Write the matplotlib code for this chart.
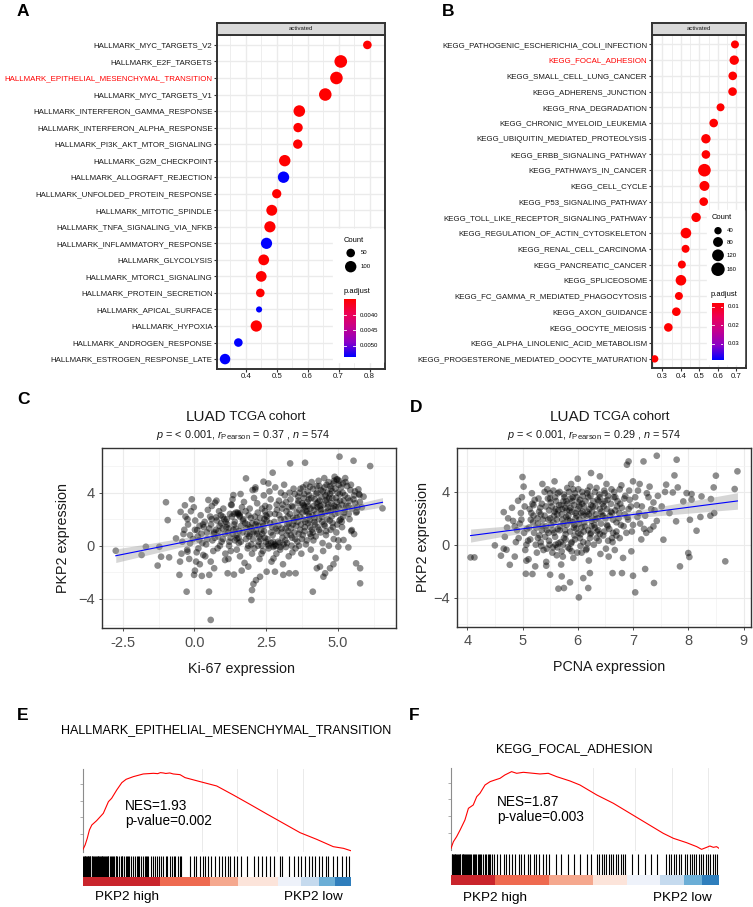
import numpy as np
import matplotlib
matplotlib.use("Agg")
import matplotlib.pyplot as plt
from matplotlib.colors import LinearSegmentedColormap
from matplotlib.patches import Rectangle

plt.rcParams['font.family'] = ['Liberation Sans', 'DejaVu Sans']
plt.rcParams['mathtext.fontset'] = 'custom'
plt.rcParams['mathtext.rm'] = 'Liberation Sans'
plt.rcParams['mathtext.it'] = 'Liberation Sans:italic'

W, H, DPI = 753, 907, 100

# ---------------- A: hallmark GSEA dotplot ----------------
hm_terms = ["HALLMARK_MYC_TARGETS_V2", "HALLMARK_E2F_TARGETS",
            "HALLMARK_EPITHELIAL_MESENCHYMAL_TRANSITION", "HALLMARK_MYC_TARGETS_V1",
            "HALLMARK_INTERFERON_GAMMA_RESPONSE", "HALLMARK_INTERFERON_ALPHA_RESPONSE",
            "HALLMARK_PI3K_AKT_MTOR_SIGNALING", "HALLMARK_G2M_CHECKPOINT",
            "HALLMARK_ALLOGRAFT_REJECTION", "HALLMARK_UNFOLDED_PROTEIN_RESPONSE",
            "HALLMARK_MITOTIC_SPINDLE", "HALLMARK_TNFA_SIGNALING_VIA_NFKB",
            "HALLMARK_INFLAMMATORY_RESPONSE", "HALLMARK_GLYCOLYSIS",
            "HALLMARK_MTORC1_SIGNALING", "HALLMARK_PROTEIN_SECRETION",
            "HALLMARK_APICAL_SURFACE", "HALLMARK_HYPOXIA",
            "HALLMARK_ANDROGEN_RESPONSE", "HALLMARK_ESTROGEN_RESPONSE_LATE"]
hm_ratio = [0.793, 0.707, 0.693, 0.657, 0.573, 0.569, 0.568, 0.526, 0.522, 0.500,
            0.484, 0.478, 0.467, 0.458, 0.450, 0.447, 0.443, 0.434, 0.376, 0.333]
hm_count = [50, 128, 126, 125, 104, 62, 62, 100, 100, 60,
            90, 96, 96, 88, 86, 50, 20, 98, 50, 82]
hm_padj = [0.00348, 0.00348, 0.00348, 0.00348, 0.00348, 0.00348, 0.00348, 0.00348,
           0.00535, 0.00348, 0.00348, 0.00348, 0.00535, 0.00348, 0.00348, 0.00348,
           0.00535, 0.00348, 0.00535, 0.00535]

# ---------------- B: KEGG GSEA dotplot ----------------
kg_terms = ["KEGG_PATHOGENIC_ESCHERICHIA_COLI_INFECTION", "KEGG_FOCAL_ADHESION",
            "KEGG_SMALL_CELL_LUNG_CANCER", "KEGG_ADHERENS_JUNCTION", "KEGG_RNA_DEGRADATION",
            "KEGG_CHRONIC_MYELOID_LEUKEMIA", "KEGG_UBIQUITIN_MEDIATED_PROTEOLYSIS",
            "KEGG_ERBB_SIGNALING_PATHWAY", "KEGG_PATHWAYS_IN_CANCER", "KEGG_CELL_CYCLE",
            "KEGG_P53_SIGNALING_PATHWAY", "KEGG_TOLL_LIKE_RECEPTOR_SIGNALING_PATHWAY",
            "KEGG_REGULATION_OF_ACTIN_CYTOSKELETON", "KEGG_RENAL_CELL_CARCINOMA",
            "KEGG_PANCREATIC_CANCER", "KEGG_SPLICEOSOME",
            "KEGG_FC_GAMMA_R_MEDIATED_PHAGOCYTOSIS", "KEGG_AXON_GUIDANCE",
            "KEGG_OOCYTE_MEIOSIS", "KEGG_ALPHA_LINOLENIC_ACID_METABOLISM",
            "KEGG_PROGESTERONE_MEDIATED_OOCYTE_MATURATION"]
kg_ratio = [0.692, 0.688, 0.680, 0.679, 0.614, 0.577, 0.535, 0.535, 0.527, 0.527,
            0.523, 0.482, 0.427, 0.425, 0.405, 0.400, 0.389, 0.375, 0.332, np.nan, 0.258]
kg_count = [48, 71, 58, 58, 48, 58, 71, 58, 140, 82,
            58, 71, 94, 48, 48, 94, 48, 58, 58, 20, 40]
kg_padj = [0.0079] * 19 + [0.0386, 0.0079]

# ---------------- C / D: scatter (x, PKP2) ----------------
ki67_pts = [
    (-2.74, -0.38), (-1.84, -0.7), (-1.69, -0.08), (-1.28, -1.5), (-1.22, -0.08), (-1.16, -0.83),
    (-0.99, 3.28), (-0.93, 1.93), (-0.88, -0.88), (-0.64, 0.55), (-0.52, -2.2), (-0.5, -1.2),
    (-0.48, 2.55), (-0.38, 0.88), (-0.33, 3.05), (-0.27, -3.47), (-0.24, 2.0), (-0.24, -0.45),
    (-0.15, 0.18), (-0.09, 3.5), (-0.01, -2.2), (0.02, -1.88), (0.1, 1.18), (0.17, 0.43),
    (0.26, -2.28), (0.31, -0.7), (0.49, 3.45), (0.51, -3.47), (0.52, -2.2), (0.57, -5.6),
    (0.69, -1.7), (0.72, 3.25), (0.76, 2.14), (0.99, 2.19), (1.07, -1.08), (1.16, -2.08),
    (1.3, 3.07), (1.36, 3.82), (1.38, -2.18), (1.48, 0.55), (1.59, 2.44), (1.65, -1.88),
    (1.8, 5.08), (1.88, -1.58), (1.99, -4.1), (2.01, -3.35), (2.06, -2.89), (2.12, 4.25),
    (2.15, -2.6), (2.29, -2.34), (2.41, 4.83), (2.58, 4.7), (2.52, -1.96), (2.73, 5.51),
    (2.76, -0.96), (2.81, -1.96), (3.1, -2.2), (3.34, 6.21), (3.31, -2.08), (3.53, -2.08),
    (3.8, 3.07), (3.86, 6.26), (4.03, 4.45), (4.13, -3.47), (4.27, -1.7), (4.38, -1.58),
    (4.5, -2.34), (4.56, -2.08), (4.73, -1.7), (4.85, -1.4), (4.94, -0.96), (5.02, -0.08),
    (5.06, 6.72), (5.14, 1.81), (5.2, 0.43), (5.37, -0.13), (5.49, 1.18), (5.55, 6.41),
    (5.57, 0.88), (5.64, -1.33), (5.72, 4.25), (5.76, 3.82), (5.78, -1.7), (5.78, -2.84),
    (5.66, 2.57), (6.13, 6.01), (6.56, 2.82),
    (-0.42, 0.3), (-0.35, 1.2), (-0.45, -0.6), (-0.31, 2.2),
    (-0.22, 1.6), (-0.15, 0.8), (-0.25, -0.3), (-0.12, 2.6), (-0.18, -1.0),
    (0.03, 1.9), (-0.05, 0.5), (0.08, -0.5), (0.02, 1.2), (-0.02, 2.9), (0.06, -1.2),
    (0.18, 1.5), (0.25, 0.9), (0.14, -0.2), (0.22, 2.3), (0.28, 0.2), (0.19, -1.4),
    (0.36, 1.8), (0.44, 1.0), (0.41, 0.1), (0.38, -0.8), (0.47, 2.7), (0.33, 1.4),
    (0.58, 1.6), (0.63, 0.4), (0.55, 2.2), (0.66, -0.4), (0.61, 3.0), (0.69, 1.0), (0.57, -1.2),
    (0.78, 1.9), (0.83, 0.7), (0.75, 1.2), (0.86, 2.6), (0.81, -0.2), (0.89, 0.0), (0.77, 3.4),
    (0.98, 1.3), (1.04, 2.0), (0.95, 0.3), (1.08, -0.6), (1.01, 2.8), (0.93, 1.7), (1.06, 0.9),
    (1.17, 1.0), (1.24, 2.4), (1.21, 0.0), (1.15, 1.6), (1.28, 3.1), (1.19, -1.0), (1.26, 0.6), (1.13, 2.0),
    (1.38, 2.4), (1.45, 2.5), (1.36, 1.2), (1.42, 0.4), (1.48, -0.3), (1.33, 3.5), (1.41, 1.8), (1.47, 0.8),
    (1.57, 2.3), (1.63, 1.5), (1.55, 0.2), (1.66, 2.9), (1.59, -0.8), (1.68, 1.0), (1.61, 3.9), (1.54, 0.6),
    (1.77, 1.7), (1.84, 0.9), (1.79, 2.6), (1.86, -0.2), (1.73, 3.3), (1.82, 1.3), (1.88, 0.0), (1.75, -1.3),
    (1.97, 2.1), (2.04, 0.5), (1.95, 1.4), (2.08, 3.6), (2.01, -0.6), (1.93, 2.8), (2.06, 1.0), (1.99, 0.1), (2.03, 4.2),
    (2.17, 1.8), (2.24, 0.3), (2.21, 2.5), (2.15, 1.1), (2.27, -1.0), (2.19, 3.2), (2.26, 0.7), (2.13, 4.4),
    (2.37, 0.9), (2.44, 2.0), (2.41, 1.5), (2.35, 0.0), (2.47, 3.0), (2.39, -0.4), (2.46, 2.6), (2.33, 1.2), (2.42, 3.8),
    (2.57, 0.1), (2.64, 1.7), (2.61, 2.9), (2.55, 0.5), (2.67, 1.0), (2.59, -0.2), (2.66, 3.5), (2.53, 2.2), (2.62, 4.1), (2.69, -1.2),
    (2.78, 0.0), (2.84, 1.3), (2.81, 2.4), (2.75, 0.3), (2.87, 3.1), (2.79, 1.8), (2.86, -0.6), (2.73, 0.8), (2.82, 4.4), (2.88, 2.7),
    (2.97, 0.2), (3.04, 1.0), (3.01, 2.0), (2.95, 3.4), (3.07, 0.6), (2.99, -0.3), (3.06, 2.8), (2.93, 1.5), (3.02, 4.0), (3.09, -1.4),
    (3.17, 0.4), (3.24, 1.6), (3.21, 2.6), (3.15, 3.8), (3.27, 1.1), (3.19, -0.1), (3.26, 2.2), (3.13, 4.6), (3.22, 0.8), (3.29, -0.8),
    (3.37, 1.3), (3.44, 2.9), (3.41, 0.6), (3.35, 3.5), (3.47, 1.9), (3.39, 0.0), (3.46, 4.3), (3.33, 2.4), (3.42, -0.5), (3.49, 1.0),
    (3.57, 2.1), (3.64, 0.9), (3.61, 3.2), (3.55, 1.5), (3.67, 4.0), (3.59, 0.3), (3.66, 2.7), (3.53, -0.2), (3.62, 3.7), (3.69, 1.2),
    (3.77, 2.5), (3.84, 1.1), (3.81, 3.6), (3.75, 0.5), (3.87, 1.8), (3.79, 4.4), (3.86, 2.9), (3.73, -0.6), (3.82, 3.0), (3.89, 0.1),
    (3.97, 3.0), (4.04, 1.4), (4.01, 2.2), (3.95, 4.1), (4.07, 0.7), (3.99, 3.5), (4.06, -0.3), (3.93, 2.6), (4.02, 1.9), (4.09, 4.8),
    (4.17, 2.7), (4.24, 3.9), (4.21, 1.6), (4.15, 0.4), (4.27, 3.2), (4.19, 2.1), (4.26, 4.5), (4.13, 1.0), (4.22, -0.9), (4.29, 2.9),
    (4.37, 3.4), (4.44, 2.4), (4.41, 4.2), (4.35, 1.2), (4.47, 0.2), (4.39, 3.0), (4.46, 1.8), (4.33, 4.9), (4.42, 2.7), (4.49, -0.4),
    (4.57, 3.8), (4.64, 2.0), (4.61, 4.6), (4.55, 1.5), (4.67, 3.1), (4.59, 0.8), (4.66, 2.6), (4.53, 5.1), (4.62, 3.5), (4.69, 0.0),
    (4.77, 4.3), (4.84, 2.8), (4.81, 3.6), (4.75, 1.2), (4.87, 4.9), (4.79, 2.2), (4.86, 0.5), (4.73, 3.9), (4.82, 1.7), (4.89, 5.2),
    (4.97, 3.3), (5.04, 4.6), (5.01, 2.5), (4.95, 1.0), (5.07, 3.9), (4.99, 5.0), (5.06, 1.9), (4.93, 2.9), (5.02, 0.4),
    (5.17, 4.0), (5.24, 2.7), (5.21, 3.4), (5.15, 1.4), (5.27, 4.8), (5.19, 2.2), (5.26, 5.1),
    (5.37, 3.0), (5.44, 4.2), (5.41, 2.0), (5.35, 3.6), (5.47, 1.1),
    (5.57, 3.8), (5.64, 2.5), (5.61, 3.2), (5.77, 3.3), (5.84, 2.9),
    (0.52, 1.3), (0.71, 0.6), (0.88, 1.5), (0.92, 2.3), (1.11, 1.4), (1.22, 0.3), (1.31, 2.2),
    (1.39, 1.6), (1.52, 2.4), (1.56, 1.1), (1.51, 2.5), (1.58, 2.2), (1.71, 2.0), (1.85, 1.6),
    (1.91, 0.7), (2.02, 1.7), (2.11, 2.2), (2.18, 0.9), (2.23, 1.5), (2.31, 0.5), (2.36, 2.8),
    (2.43, 1.1), (2.5, 0.3), (2.52, 1.9), (2.58, 0.0), (2.63, 2.4), (2.68, 0.2), (2.71, 1.4),
    (2.76, -0.1), (2.8, 0.1), (2.85, 0.0), (2.89, 1.1), (2.92, 0.3), (2.96, 2.3), (3.0, -0.1),
    (3.05, 1.3), (3.08, 3.1), (3.11, 0.1), (3.14, 2.0), (3.18, 1.3), (3.2, 3.3), (3.23, 0.2),
    (3.28, 2.9), (3.3, 1.7), (3.32, 4.0), (3.36, 0.8), (3.4, 3.0), (3.43, 1.6), (3.45, 2.1),
    (3.5, 3.9), (3.52, 0.5), (3.56, 2.5), (3.6, 1.8), (3.63, 3.4), (3.65, 0.0), (3.68, 2.2),
    (3.7, 4.3), (3.72, 1.6), (3.76, 3.2), (3.78, 0.8), (3.8, 2.0), (3.83, 3.9), (3.85, 1.4),
    (3.88, 2.6), (3.9, 4.6), (3.92, 0.4), (3.94, 3.3), (3.96, 1.7), (3.98, 2.4), (4.0, 3.8),
    (4.03, 0.9), (4.05, 2.8), (4.08, 3.6), (4.1, 1.2), (4.12, 2.3), (4.14, 4.3), (4.16, 3.0),
    (4.18, 1.8), (4.2, 3.5), (4.23, 0.7), (4.25, 2.4), (4.28, 4.0), (4.3, 1.4), (4.32, 3.3),
    (4.34, 2.0), (4.36, 4.5), (4.38, 2.8), (4.4, 1.0), (4.43, 3.7), (4.45, 2.2), (4.48, 4.1),
    (4.5, 3.1), (4.52, 1.6), (4.54, 4.4), (4.56, 2.5), (4.58, 3.4), (4.6, 1.1), (4.63, 4.0),
    (4.65, 2.9), (4.68, 4.8), (4.7, 3.6), (4.72, 1.9), (4.74, 4.5), (4.76, 2.6), (4.78, 3.2),
    (4.8, 4.1), (4.83, 1.4), (4.85, 4.7), (4.88, 3.0), (4.9, 2.4), (4.92, 4.3), (4.94, 3.6),
    (4.96, 5.0), (4.98, 1.6), (5.0, 4.0), (5.03, 2.9), (5.05, 4.9), (5.08, 3.4), (5.1, 2.0),
    (5.12, 4.4), (5.14, 3.1), (5.18, 4.7), (5.22, 2.5), (5.25, 3.8), (5.3, 3.0), (5.33, 4.5),
    (5.38, 2.4), (5.42, 3.4), (5.46, 4.6), (5.5, 2.8), (5.55, 3.5), (5.6, 4.1), (5.68, 2.9),
    (5.74, 3.9), (5.9, 3.7),
    (0.12, 0.7), (0.3, 1.6), (0.45, 0.5), (0.6, 2.0), (0.67, 0.9), (0.84, 1.1), (1.0, 0.5),
    (1.09, 1.8), (1.2, 1.3), (1.27, -0.4), (1.34, 0.9), (1.44, 1.3), (1.62, 0.3), (1.69, 1.9),
    (1.8, 0.5), (1.89, 2.3), (1.94, 0.9), (2.0, 1.3), (2.09, -0.2), (2.14, 1.6), (2.22, 0.0),
    (2.29, 2.1), (2.34, -0.6), (2.38, 1.7), (2.45, 0.6), (2.49, 2.3),
]
pcna_pts = [
    (4.06, -0.96), (4.13, -0.96), (4.5, -0.05), (4.61, -0.83), (4.66, 2.47), (4.71, -0.38),
    (4.77, -1.52), (4.86, 1.39), (4.92, 3.33), (5.0, 5.13), (5.06, -2.2), (5.07, -1.21),
    (5.18, -2.22), (5.23, -1.64), (5.43, -1.59), (5.5, -2.27), (5.65, -3.33), (5.71, -2.4),
    (5.75, -3.28), (5.86, -2.85), (6.02, -3.99), (6.1, -2.53), (6.19, -3.28), (6.22, -2.15),
    (6.24, 5.43), (6.4, 5.18), (6.63, -2.15), (6.8, -2.15), (6.89, 6.06), (6.92, 6.31),
    (7.0, -2.35), (7.04, -3.61), (7.19, 6.31), (7.22, -1.84), (7.38, -2.9), (7.43, 6.74),
    (7.6, 4.55), (7.75, 5.25), (7.79, 6.44), (7.81, 4.34), (7.91, 3.28), (7.97, 3.91),
    (8.02, -0.93), (8.06, 3.84), (8.15, 1.06), (8.24, 3.66), (8.03, 1.89), (7.78, 1.77),
    (8.06, 3.41), (8.4, 2.2), (8.41, 3.46), (8.46, 4.34), (8.47, 2.4), (8.5, 5.23),
    (8.67, -1.26), (8.84, 4.22), (8.89, 5.56), (7.85, -1.64), (8.22, 2.1), (8.0, -0.63),
    (7.66, 2.4), (7.55, 0.38), (7.37, 1.39), (7.31, 1.14), (7.72, 3.96),
    (4.68, 0.6), (4.74, 2.0), (4.66, -0.3), (4.72, 1.3),
    (4.83, 1.8), (4.88, 0.2), (4.81, 2.8), (4.86, -0.9), (4.9, 1.1),
    (4.97, 2.4), (5.03, 0.9), (4.99, 3.6), (5.05, -0.4), (4.95, 1.6), (5.02, 4.4), (5.07, 0.0),
    (5.12, 1.3), (5.18, 3.1), (5.14, 0.4), (5.2, 2.2), (5.11, -1.1), (5.17, 3.9), (5.21, 0.9), (5.13, 2.7),
    (5.27, 2.0), (5.33, 0.2), (5.29, 3.5), (5.35, 1.1), (5.26, -0.6), (5.32, 2.8), (5.36, 4.6), (5.28, 1.6), (5.34, -0.1),
    (5.42, 1.4), (5.48, 2.6), (5.44, -0.3), (5.5, 3.9), (5.41, 0.6), (5.47, 1.9), (5.51, 3.2), (5.43, -1.3), (5.49, 0.0), (5.45, 4.2),
    (5.57, 0.9), (5.63, 2.3), (5.59, 3.6), (5.65, 0.1), (5.56, 1.7), (5.62, -0.8), (5.66, 3.0), (5.58, 4.8), (5.64, 1.2), (5.6, 2.7), (5.55, -0.2),
    (5.72, 1.9), (5.78, 0.4), (5.74, 3.3), (5.8, 2.6), (5.71, -0.5), (5.77, 1.1), (5.81, 4.3), (5.73, 0.0), (5.79, 2.1), (5.75, 3.8), (5.7, -1.5),
    (5.87, 2.8), (5.93, 1.3), (5.89, 0.2), (5.95, 3.9), (5.86, 1.8), (5.92, -1.0), (5.96, 2.4), (5.88, 4.6), (5.94, 0.7), (5.9, 3.3), (5.85, -0.3),
    (6.02, 1.6), (6.08, 3.1), (6.04, 0.5), (6.1, 2.2), (6.01, 4.2), (6.07, -0.6), (6.11, 1.0), (6.03, 2.9), (6.09, 3.7), (6.05, -0.1), (6.0, 5.0),
    (6.17, 2.5), (6.23, 0.8), (6.19, 3.6), (6.25, 1.4), (6.16, -0.3), (6.22, 4.4), (6.26, 2.0), (6.18, 0.1), (6.24, 3.0), (6.2, -1.2),
    (6.32, 1.9), (6.38, 3.3), (6.34, 0.5), (6.4, 2.7), (6.31, 4.0), (6.37, 1.1), (6.41, -0.7), (6.33, 2.3), (6.39, 3.8),
    (6.47, 2.9), (6.53, 1.5), (6.49, 3.9), (6.55, 0.3), (6.46, 2.2), (6.52, 4.6), (6.56, -0.9), (6.48, 1.0), (6.54, 3.4),
    (6.62, 2.4), (6.68, 3.6), (6.64, 0.9), (6.7, 1.7), (6.61, 4.2), (6.67, -0.4), (6.71, 2.9), (6.63, 0.2),
    (6.77, 3.1), (6.83, 1.4), (6.79, 4.5), (6.85, 2.3), (6.76, 0.5), (6.82, -1.0), (6.86, 3.7),
    (6.92, 2.7), (6.98, 1.0), (6.94, 3.4), (7.0, 4.8), (6.91, 1.9), (6.97, -0.5),
    (7.07, 3.0), (7.13, 1.6), (7.09, 4.1), (7.15, 0.4), (7.11, 2.4),
    (7.22, 2.2), (7.28, 3.6), (7.24, 0.9), (7.3, 4.4), (7.37, 3.2), (7.43, 1.8), (7.39, 2.6),
    (7.52, 2.9), (7.58, 4.0),
    (4.93, 0.5), (4.98, 1.9), (5.04, 2.9), (5.08, 1.2), (5.1, 0.3), (5.16, 2.4), (5.19, 1.7),
    (5.22, 3.4), (5.24, 0.0), (5.25, 1.3), (5.3, 2.5), (5.31, 0.7), (5.35, 3.1), (5.37, 1.9),
    (5.38, -0.4), (5.4, 2.2), (5.4, 4.0), (5.44, 1.1), (5.46, 3.5), (5.48, 0.3), (5.5, 2.0),
    (5.52, 1.5), (5.53, 2.9), (5.54, -0.6), (5.56, 4.1), (5.57, 2.2), (5.59, 0.6), (5.61, 3.3),
    (5.62, 1.9), (5.63, -0.2), (5.65, 2.6), (5.67, 4.0), (5.68, 1.4), (5.69, 0.2), (5.7, 3.0),
    (5.71, 2.3), (5.73, -0.9), (5.74, 1.6), (5.76, 3.6), (5.77, 2.8), (5.78, 0.8), (5.8, 1.5),
    (5.81, 3.1), (5.82, -0.2), (5.83, 2.2), (5.84, 4.0), (5.86, 1.0), (5.87, 3.5), (5.88, 0.1),
    (5.9, 2.5), (5.91, 1.7), (5.92, 4.2), (5.93, 3.0), (5.95, 0.4), (5.96, 2.0), (5.97, 1.2),
    (5.98, 3.6), (5.99, -0.6), (6.0, 2.7), (6.01, 0.9), (6.03, 1.9), (6.04, 3.4), (6.06, 2.4),
    (6.07, 1.3), (6.08, 4.0), (6.1, 0.2), (6.11, 2.9), (6.12, 1.7), (6.14, 3.3), (6.15, -0.4),
    (6.16, 2.2), (6.18, 4.1), (6.19, 1.1), (6.21, 2.7), (6.22, 0.5), (6.23, 3.7), (6.25, 1.8),
    (6.26, 2.5), (6.28, 3.3), (6.29, 0.0), (6.3, 1.5), (6.32, 2.9), (6.34, 4.3), (6.35, 1.0),
    (6.36, 2.0), (6.38, 0.3), (6.4, 3.6), (6.42, 1.6), (6.43, 2.5), (6.45, 3.1), (6.46, 0.7),
    (6.48, 4.1), (6.5, 2.0), (6.51, -0.3), (6.53, 2.7), (6.55, 3.7), (6.57, 1.2), (6.58, 2.2),
    (6.6, 3.1), (6.62, 0.5), (6.64, 1.9), (6.66, 4.0), (6.68, 2.6), (6.7, 1.0), (6.72, 3.3),
    (6.74, 2.0), (6.76, 4.2), (6.78, 1.5), (6.8, 2.8), (6.84, 3.5), (6.88, 0.9), (6.9, 2.1),
    (6.93, 4.1), (6.96, 2.9), (7.0, 1.5), (7.04, 3.6), (7.08, 2.1), (7.12, 4.6), (7.16, 2.9),
    (7.2, 1.2), (7.25, 3.9), (7.33, 2.7), (7.45, 3.7),
    (5.15, 1.9), (5.2, 3.0), (5.28, 0.5), (5.33, 2.3), (5.36, 1.4), (5.42, 2.9), (5.47, 0.9),
    (5.5, 3.5), (5.55, 1.1), (5.58, 2.5), (5.6, 0.0), (5.64, 3.9), (5.67, 1.1), (5.72, 2.7),
    (5.75, 0.5), (5.79, 3.3), (5.82, 1.9), (5.85, 2.6), (5.89, -0.5), (5.91, 3.6), (5.94, 1.5),
    (5.98, 2.2), (6.02, 3.2), (6.05, 0.8), (6.09, 2.5), (6.13, 1.4), (6.17, 3.9), (6.2, 2.3),
    (6.24, 0.9), (6.27, 2.9), (6.31, 1.3), (6.36, 3.4), (6.4, 0.8), (6.44, 2.2), (6.49, 3.3),
    (6.54, 1.4), (6.6, 2.5), (6.65, 3.6), (6.7, 0.7), (6.75, 2.4),
]

# ---------------- E / F: running enrichment score, hits, ranking bar ----------------
emt_rank = [0, 0.9, 1.7, 2.5, 3.4, 5.2, 7.7, 9.6, 10.8, 12.7, 14.6, 16.2, 18.9, 22.6, 26.4,
            28.0, 29.0, 30.1, 31.0, 32.5, 33.8, 36.3, 38.2, 43.8, 50.0, 56.2, 62.4, 68.7,
            74.9, 81.1, 87.3, 93.5, 97.3, 100]
emt_es = [0.004, 0.034, 0.074, 0.124, 0.154, 0.18, 0.224, 0.294, 0.314, 0.364, 0.408, 0.428,
          0.444, 0.46, 0.464, 0.462, 0.468, 0.466, 0.463, 0.466, 0.46, 0.456, 0.438, 0.414,
          0.388, 0.334, 0.278, 0.22, 0.164, 0.108, 0.068, 0.024, 0.014, 0.0]
emt_hits = [0.2, 0.5, 0.8, 1.0, 1.3, 1.6, 1.9, 2.1, 2.4, 2.7, 2.9, 3.3, 3.6, 4.0, 4.3, 4.5,
            4.9, 5.2, 5.6, 5.8, 6.1, 6.5, 6.8, 7.1, 7.3, 7.7, 8.0, 8.4, 8.6, 8.9, 9.3, 9.6,
            10.1, 10.5, 10.8, 11.3, 11.7,
            12.3, 12.6, 12.9, 13.4, 14.2, 14.5, 14.8, 15.3, 16.1, 16.6, 17.0, 17.4, 18.0, 18.9,
            19.5, 20.3, 20.6, 21.0, 21.6, 22.4, 23.1, 23.5, 23.9, 24.5, 25.4, 26.2, 26.8, 27.7,
            28.5, 29.3, 30.0, 30.9, 31.6, 32.4, 33.2, 34.0, 34.6, 35.5, 36.2, 36.8,
            40.2, 41.5, 42.3, 43.6, 44.8, 45.5, 46.9, 48.0, 49.5, 50.7, 51.8, 53.0, 54.2, 55.1,
            56.3, 57.5, 59.0, 61.2, 63.8, 65.5, 66.8, 68.3, 69.9, 71.2, 73.5, 74.4, 76.8, 78.9,
            80.2, 81.6, 83.0, 84.5, 85.7, 86.8, 88.2, 89.4, 90.6, 91.7, 93.4, 95.0, 96.8, 98.1, 99.4]
emt_bar_edges = [0, 29, 47.5, 58, 73, 81.5, 88, 94, 100]

fa_rank = [0, 0.9, 2.1, 3.4, 5.2, 6.5, 8.3, 9.6, 10.8, 12.7, 14.6, 16.4, 18.3, 20.1, 22.6,
           24.5, 27.0, 30.7, 33.2, 36.3, 39.4, 44.4, 48.1, 54.4, 60.6, 66.8, 73.0, 79.2,
           83.0, 87.9, 91.7, 93.5, 95.4, 96.6, 97.9, 99.1, 100]
fa_es = [0.006, 0.046, 0.076, 0.116, 0.176, 0.246, 0.266, 0.316, 0.336, 0.386, 0.406, 0.416,
         0.426, 0.446, 0.466, 0.456, 0.462, 0.456, 0.452, 0.456, 0.436, 0.41, 0.386, 0.326,
         0.276, 0.216, 0.156, 0.096, 0.066, 0.04, 0.016, 0.0, 0.012, 0.02, 0.012, 0.016, 0.006]
fa_hits = [0.2, 0.5, 0.7, 1.1, 1.4, 1.6, 2.0, 2.3, 2.6, 3.1, 3.3, 3.5, 4.1, 4.4, 4.6, 5.0,
           5.3, 5.6, 6.1, 6.5, 6.8, 7.1, 7.6, 8.2, 8.7, 9.0, 9.3, 9.9, 10.5, 10.8, 11.2, 11.8,
           12.5, 13.2, 13.9, 14.2, 14.6, 15.4, 16.2,
           17.3, 18.4, 19.6, 20.5, 21.7, 22.9, 24.0, 25.2, 26.1, 27.4, 28.6, 29.5, 30.8, 31.9,
           33.0, 34.3, 35.4, 36.5, 39.0, 41.2, 43.5, 45.8, 48.0, 50.6, 52.4,
           54.5, 55.4, 56.3, 57.1, 58.0, 58.9, 59.8, 60.6, 61.5, 62.4, 63.3, 64.2, 65.0,
           67.5, 69.8, 72.4, 74.6, 77.0,
           80.4, 81.3, 82.2, 83.1, 84.0, 84.9, 86.0, 87.2, 88.1, 89.0, 89.9, 90.8, 91.6, 92.5,
           93.3, 94.2, 95.0, 95.9, 96.7, 97.6, 98.5, 99.4]
fa_bar_edges = [0, 16.5, 36.5, 53, 65.5, 78, 87, 93.5, 100]
bar_colors = ['#C9252C', '#EE6A50', '#F5A88E', '#FCE4DA', '#EEF2FA', '#C5DAEE', '#6BAED6', '#2F7EBC']

padj_cmap = LinearSegmentedColormap.from_list(
    'padj', ['#FF0000', '#EE0055', '#C4008F', '#8A00C8', '#0000FF'])

fig = plt.figure(figsize=(W / DPI, H / DPI), dpi=DPI)


def px_axes(x0, y0, x1, y1, **kw):
    return fig.add_axes([x0 / W, 1 - y1 / H, (x1 - x0) / W, (y1 - y0) / H], **kw)


ov = fig.add_axes([0, 0, 1, 1], zorder=20)
ov.set_xlim(0, W)
ov.set_ylim(H, 0)
ov.axis('off')
ov.patch.set_alpha(0)


def dot_area(count, a, b):
    r = a + b * np.sqrt(np.asarray(count, float))
    return (2 * r * 72 / DPI) ** 2


def dotplot(box, terms, ratio, count, padj, size_ab, xlim, xticks, red_term,
            legend_box, count_title, count_dots, count_levels, pad_title, cbar_box, cbar_ticks, cbar_fmt):
    x0, y0, x1, y1 = box
    n = len(terms)
    ax = px_axes(x0, y0, x1, y1)
    rows = np.arange(n)
    vmin, vmax = np.nanmin(padj), np.nanmax(padj)
    ax.scatter(ratio, rows, s=dot_area(count, *size_ab), c=padj, cmap=padj_cmap,
               vmin=vmin, vmax=vmax, edgecolors='none', zorder=3)
    ax.set_xlim(*xlim)
    ax.set_ylim(n - 1 + 0.6, -0.6)
    ax.set_yticks(rows)
    ax.set_yticklabels(terms)
    ax.set_xticks(xticks)
    ax.set_xticklabels([f"{t:.1f}" for t in xticks])
    ax.set_xticks([t + 0.05 for t in xticks] + [xticks[0] - 0.05], minor=True)
    ax.grid(True, which='major', color='#EBEBEB', lw=1.0, zorder=0)
    ax.grid(True, which='minor', axis='x', color='#EBEBEB', lw=0.6, zorder=0)
    ax.set_axisbelow(True)
    ax.tick_params(axis='both', which='major', labelsize=5.7, length=2.2, width=0.8,
                   color='#333333', labelcolor='#1A1A1A', pad=1)
    ax.tick_params(axis='x', which='minor', length=0)
    for lab in ax.get_yticklabels():
        if lab.get_text() == red_term:
            lab.set_color('#FF0000')
    for sp in ax.spines.values():
        sp.set_color('#333333')
        sp.set_linewidth(1.4)
    # facet strip
    st = px_axes(x0, 23, x1, y0)
    st.set_facecolor('#D9D9D9')
    st.set_xticks([])
    st.set_yticks([])
    for sp in st.spines.values():
        sp.set_color('#333333')
        sp.set_linewidth(1.4)
    st.text(0.5, 0.5, 'activated', ha='center', va='center', fontsize=4.3, color='#1A1A1A')
    # legends
    lx0, ly0, lx1, ly1 = legend_box
    ov.add_patch(Rectangle((lx0, ly0), lx1 - lx0, ly1 - ly0, color='white', zorder=1))
    ov.text(count_title[0], count_title[1], 'Count', fontsize=5.4, va='center', ha='left')
    dx, lab_x, dys = count_dots
    ov.scatter([dx] * len(count_levels), dys, s=dot_area(count_levels, *size_ab),
               color='black', edgecolors='none', zorder=3)
    for lv, dy in zip(count_levels, dys):
        ov.text(lab_x, dy, str(lv), fontsize=4.3, va='center', ha='left')
    ov.text(pad_title[0], pad_title[1], 'p.adjust', fontsize=5.4, va='center', ha='left')
    cb = px_axes(*cbar_box, zorder=21)
    grad = np.linspace(vmin, vmax, 200)[:, None]
    cb.imshow(grad, cmap=padj_cmap, aspect='auto', extent=[0, 1, vmax, vmin], vmin=vmin, vmax=vmax)
    cb.set_ylim(vmax, vmin)
    cb.set_xlim(0, 1)
    cb.axis('off')
    for t in cbar_ticks:
        cb.plot([0, 0.2], [t, t], color='white', lw=0.6)
        cb.plot([0.8, 1], [t, t], color='white', lw=0.6)
        cb.text(1.35, t, cbar_fmt.format(t), fontsize=4.3, va='center', ha='left',
                transform=cb.get_yaxis_transform())
    return ax


dotplot((217, 35, 385, 369), hm_terms, hm_ratio, hm_count, hm_padj, (0.92, 0.478),
        (0.307, 0.817), [0.4, 0.5, 0.6, 0.7, 0.8],
        "HALLMARK_EPITHELIAL_MESENCHYMAL_TRANSITION",
        (333, 229, 383, 362), (344, 241), (350.7, 361, [253, 266.7]), [50, 100],
        (344, 291.7), (344, 299, 355.7, 356.7), [0.0040, 0.0045, 0.0050], "{:.4f}")

dotplot((651.7, 35, 745.7, 368.3), kg_terms, kg_ratio, kg_count, kg_padj, (0.7, 0.474),
        (0.242, 0.712), [0.3, 0.4, 0.5, 0.6, 0.7], "KEGG_FOCAL_ADHESION",
        (707, 210, 744, 364), (711.7, 217.3), (718, 727, [230.7, 242, 255.3, 269.3]),
        [40, 80, 120, 160], (711, 295), (711.7, 302.7, 723.3, 360), [0.01, 0.02, 0.03], "{:.2f}")


def scatter_panel(box, pts, xlim, xticks, xfmt, xminor, xlabel, r_txt, title_split,
                  sub_x, xlab_pos, ylab_x):
    x0, y0, x1, y1 = box
    ax = px_axes(x0, y0, x1, y1)
    x, y = np.array(pts).T
    ax.scatter(x, y, s=23, color='black', alpha=0.45, edgecolors='none', zorder=2)
    slope, icpt = np.polyfit(x, y, 1)
    xs = np.linspace(x.min(), x.max(), 80)
    yh = icpt + slope * xs
    s = np.sqrt(np.sum((y - (icpt + slope * x)) ** 2) / (len(x) - 2))
    se = s * np.sqrt(1 / len(x) + (xs - x.mean()) ** 2 / np.sum((x - x.mean()) ** 2))
    ax.fill_between(xs, yh - 1.96 * se, yh + 1.96 * se, color='#999999', alpha=0.4, lw=0, zorder=3)
    ax.plot(xs, yh, color='#0000FF', lw=0.8, zorder=4)
    ax.set_xlim(*xlim)
    ax.set_ylim(-6.21, 7.35)
    ax.set_xticks(xticks)
    ax.set_xticklabels([xfmt.format(t) for t in xticks])
    ax.set_xticks(xminor, minor=True)
    ax.set_yticks([-4, 0, 4])
    ax.set_yticks([-6, -2, 2, 6], minor=True)
    ax.grid(True, which='major', color='#EBEBEB', lw=0.8, zorder=0)
    ax.grid(True, which='minor', color='#F2F2F2', lw=0.5, zorder=0)
    ax.set_axisbelow(True)
    ax.tick_params(which='major', labelsize=10.5, length=2.5, width=0.6, color='#333333',
                   labelcolor='#4D4D4D', pad=3)
    ax.tick_params(which='minor', length=0)
    for sp in ax.spines.values():
        sp.set_color('#333333')
        sp.set_linewidth(1.0)
    ov.text(title_split, 417, 'LUAD', fontsize=11, ha='right', va='center', color='#1A1A1A')
    ov.text(title_split, 417, ' TCGA cohort', fontsize=9.5, ha='left', va='center', color='#1A1A1A')
    ov.text(sub_x, 435, r'$p$ = < 0.001, $r_{\mathrm{Pearson}}$ = ' + r_txt + r' , $n$ = 574',
            fontsize=7.8, ha='center', va='center', color='#1A1A1A')
    ov.text(xlab_pos[0], xlab_pos[1], xlabel, fontsize=10.3, ha='center', va='center', color='#1A1A1A')
    ov.text(ylab_x, (y0 + y1) / 2, 'PKP2 expression', fontsize=10.3, ha='center', va='center',
            rotation=90, color='#1A1A1A')


scatter_panel((102.3, 448.3, 395.7, 628), ki67_pts, (-3.21, 7.02), [-2.5, 0.0, 2.5, 5.0], "{:.1f}",
              [-1.25, 1.25, 3.75, 6.25], 'Ki-67 expression', '0.37', 226, 243, (242, 669), 63)
scatter_panel((457.3, 447.7, 750.7, 626.7), pcna_pts, (3.82, 9.13), [4, 5, 6, 7, 8, 9], "{:d}",
              [4.5, 5.5, 6.5, 7.5, 8.5], 'PCNA expression', '0.29', 590.5, 594, (609, 666.7), 423)


def gsea_panel(xr, curve_y, bar_y, col_y, rank, es, hits, edges, ylim, grid_x):
    cx = px_axes(xr[0], curve_y[0], xr[1], curve_y[1])
    cx.plot(rank, es, color='#FF0000', lw=0.8, zorder=3)
    cx.set_xlim(0, 100)
    cx.set_ylim(*ylim)
    for g in grid_x:
        cx.axvline(g, color='#E6E6E6', lw=0.6, zorder=1)
    for k in ['top', 'right', 'bottom']:
        cx.spines[k].set_visible(False)
    cx.spines['left'].set_color('#8C8C8C')
    cx.spines['left'].set_linewidth(0.8)
    cx.set_xticks([])
    cx.set_yticks([0.1, 0.2, 0.3, 0.4])
    cx.set_yticklabels([])
    cx.tick_params(axis='y', length=2, width=0.5, color='#8C8C8C')
    bx = px_axes(xr[0], bar_y[0], xr[1], bar_y[1])
    bx.vlines(hits, 0, 1, color='black', lw=0.8)
    bx.set_xlim(0, 100)
    bx.set_ylim(0, 1)
    bx.axis('off')
    kx = px_axes(xr[0], col_y[0], xr[1], col_y[1])
    for i, c in enumerate(bar_colors):
        kx.axvspan(edges[i], edges[i + 1], color=c, lw=0)
    kx.set_xlim(0, 100)
    kx.axis('off')


gsea_panel((82.7, 350.7), (769.3, 852), (856, 876.7), (876.7, 886), emt_rank, emt_es, emt_hits,
           emt_bar_edges, (-0.008, 0.488), [44.4, 57.5, 72.4, 82.3])
gsea_panel((451, 719), (768.3, 850.5), (854, 875), (875, 885), fa_rank, fa_es, fa_hits,
           fa_bar_edges, (-0.007, 0.486), [53, 68.7, 82.3, 96])

ov.text(226, 730, 'HALLMARK_EPITHELIAL_MESENCHYMAL_TRANSITION', fontsize=9, ha='center', va='center')
ov.text(574.3, 749, 'KEGG_FOCAL_ADHESION', fontsize=9, ha='center', va='center')
ov.text(125, 806, 'NES=1.93', fontsize=9.8, ha='left', va='center')
ov.text(125, 821, 'p-value=0.002', fontsize=9.8, ha='left', va='center')
ov.text(497.3, 801.7, 'NES=1.87', fontsize=9.8, ha='left', va='center')
ov.text(497.3, 817.3, 'p-value=0.003', fontsize=9.8, ha='left', va='center')
ov.text(95, 897, 'PKP2 high', fontsize=9.7, ha='left', va='center')
ov.text(284, 897, 'PKP2 low', fontsize=9.7, ha='left', va='center')
ov.text(463.3, 897.7, 'PKP2 high', fontsize=9.7, ha='left', va='center')
ov.text(652.7, 897.7, 'PKP2 low', fontsize=9.7, ha='left', va='center')

for lab, lx, ly in [('A', 17, 12), ('B', 441.7, 11), ('C', 17, 400), ('D', 410, 407),
                    ('E', 17, 715), ('F', 409, 715)]:
    ov.text(lx, ly, lab, fontsize=12.5, fontweight='bold', ha='left', va='center')

fig.savefig('out.png', dpi=DPI, facecolor='white')
